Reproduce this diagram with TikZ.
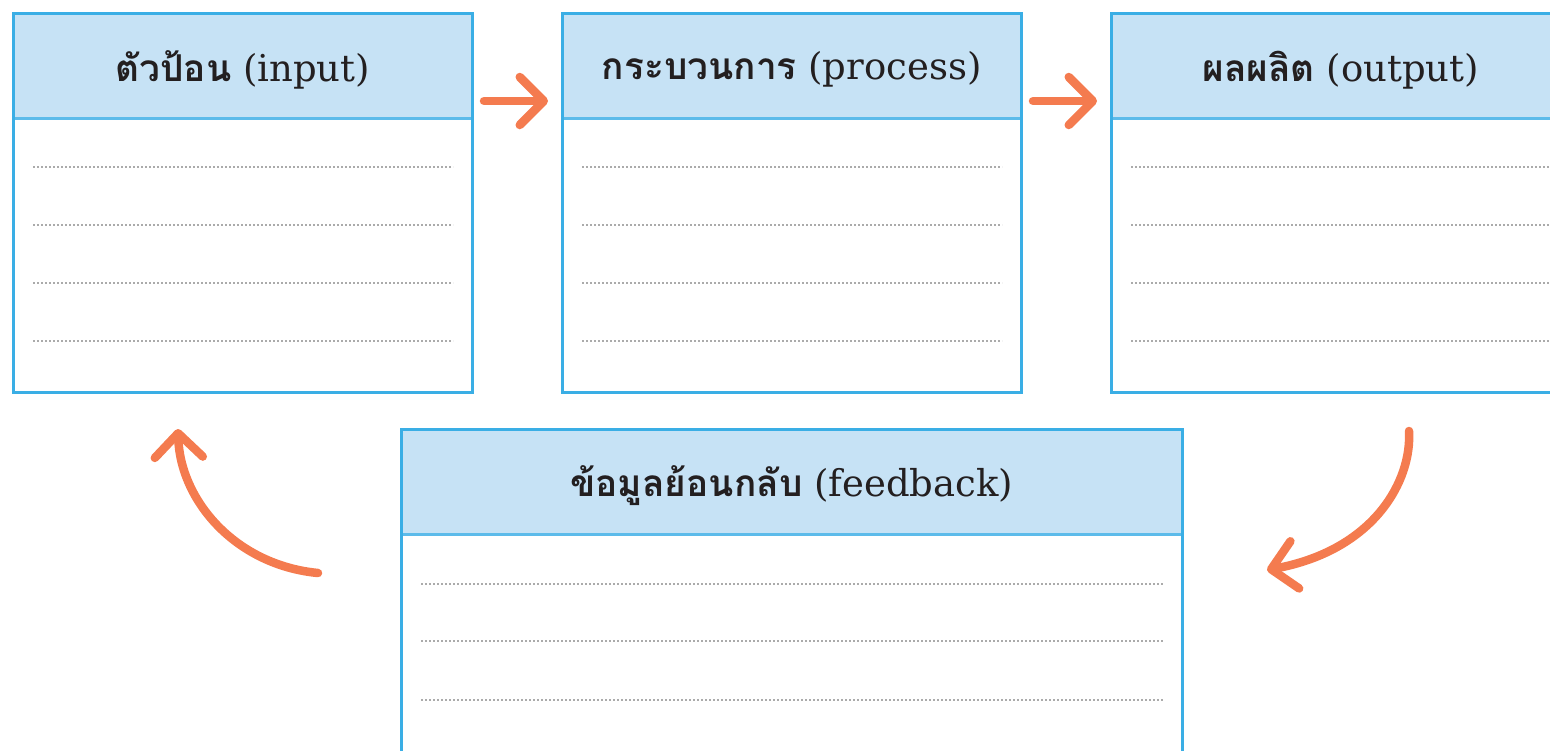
\documentclass[tikz,border=0pt]{standalone}
\usepackage{fontspec}
\setmainfont{DejaVu Serif}
\newfontfamily\thaifont[Script=Thai]{Loma}
\usetikzlibrary{arrows.meta,calc}
\definecolor{bordblue}{HTML}{3AAEE5}
\definecolor{sepblue}{HTML}{5CBBEA}
\definecolor{headfill}{HTML}{C6E2F5}
\definecolor{arrorange}{HTML}{F47B4F}
\definecolor{dotgray}{HTML}{ABABAB}
\definecolor{txt}{HTML}{231F20}
\newcommand{\headtxt}[2]{\raisebox{-4pt}[\height][\depth]{{\thaifont\bfseries #1} #2}}
\tikzset{
  headbox/.style={anchor=north west, fill=headfill, draw=sepblue, line width=2.5pt, inner sep=0pt,
    minimum width=#1, minimum height=105pt, text=txt, font=\fontsize{37}{42}\selectfont},
  framebox/.style={anchor=north west, draw=bordblue, line width=3pt, inner sep=0pt,
    minimum width=#1, minimum height=379pt},
  dotline/.style={draw=dotgray, line width=2pt, dash pattern=on 2pt off 2pt},
  connector/.style={draw=arrorange, line width=8.5pt, line cap=round,
    -{Straight Barb[length=24pt,width=48pt,round]}},
}
\begin{document}
\begin{tikzpicture}[x=1pt,y=-1pt]
\useasboundingbox (0,0) rectangle (1550,750);
% headers
\node[headbox=459pt] (inH) at (12,12) {\headtxt{ตัวป้อน}{(input)}};
\node[headbox=459pt] (prH) at (561,12) {\headtxt{กระบวนการ}{(process)}};
\node[headbox=459pt] (ouH) at (1110,12) {\headtxt{ผลผลิต}{(output)}};
\node[headbox=781pt] (fbH) at (400,428) {\headtxt{ข้อมูลย้อนกลับ}{(feedback)}};
% frames
\node[framebox=459pt] (inB) at (12,12) {};
\node[framebox=459pt] (prB) at (561,12) {};
\node[framebox=459pt] (ouB) at (1110,12) {};
\node[framebox=781pt] (fbB) at (400,428) {};
% dotted lines
\foreach \b in {inB,prB,ouB}{
  \foreach \dy in {155,213,271,329}{
    \draw[dotline] ($(\b.north west)+(21,\dy)$) -- ($(\b.north east)+(-21,\dy)$);
  }
}
\foreach \dy in {156,213,272}{
  \draw[dotline] ($(fbB.north west)+(21,\dy)$) -- ($(fbB.north east)+(-21,\dy)$);
}
% connectors
\coordinate (a1s) at (484,101);
\coordinate (a1e) at (548,101);
\coordinate (a2s) at (1033,101);
\coordinate (a2e) at (1097,101);
\coordinate (a3s) at (1409,431);
\coordinate (a3e) at (1267,570);
\coordinate (a4s) at (318,573);
\coordinate (a4e) at (178,429);
\draw[connector] (a1s) -- (a1e);
\draw[connector] (a2s) -- (a2e);
\draw[connector] (a3s) .. controls (1412,480) and (1375,550) .. (a3e);
\draw[connector] (a4s) .. controls (235,565) and (180,500) .. (a4e);
\end{tikzpicture}
\end{document}
